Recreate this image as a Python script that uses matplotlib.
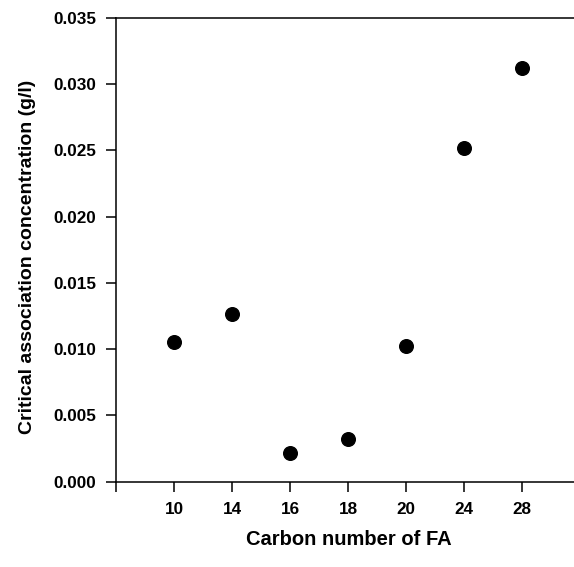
import matplotlib
matplotlib.use("Agg")
import matplotlib.pyplot as plt

categories = ["10", "14", "16", "18", "20", "24", "28"]
cac_values = [0.0105, 0.01265, 0.00216, 0.00324, 0.0102, 0.02517, 0.0312]
yticks = [0.000, 0.005, 0.010, 0.015, 0.020, 0.025, 0.030, 0.035]

plt.rcParams['font.family'] = ['Liberation Sans', 'DejaVu Sans']
plt.rcParams['font.weight'] = 'bold'

W, H = 574, 567
fig = plt.figure(figsize=(W / 100, H / 100), dpi=100)
left_px, right_px, top_px, bot_px = 116.0, 116.0 + 58 * 8, 18, 481.5
ax = fig.add_axes([left_px / W, 1 - bot_px / H, (right_px - left_px) / W, (bot_px - top_px) / H])

xpos = list(range(1, len(categories) + 1))
ax.plot(xpos, cac_values, 'o', color='black', markersize=9.8, clip_on=False)

ax.set_xlim(0, 8)
ax.set_ylim(0, 0.035)
ax.set_xticks([0] + xpos)
ax.set_xticklabels([""] + categories)
ax.set_yticks(yticks)
ax.set_yticklabels([f"{v:.3f}" for v in yticks])

for s in ['left', 'top', 'bottom']:
    ax.spines[s].set_linewidth(1.1)
ax.spines['right'].set_visible(False)

ax.tick_params(axis='both', direction='out', length=7, width=1.1, labelsize=12.3)
ax.tick_params(axis='x', pad=8)
ax.tick_params(axis='y', pad=7)

ax.set_xlabel("Carbon number of FA", fontsize=14.5, fontweight='bold')
ax.set_ylabel("Critical association concentration (g/l)", fontsize=14, fontweight='bold')
ax.xaxis.set_label_coords(0.501, -0.104)
ax.yaxis.set_label_coords(-0.19, 0.485)
ax.xaxis.label.set_va('top')
ax.yaxis.label.set_va('center')

fig.savefig("out.png", dpi=100)
